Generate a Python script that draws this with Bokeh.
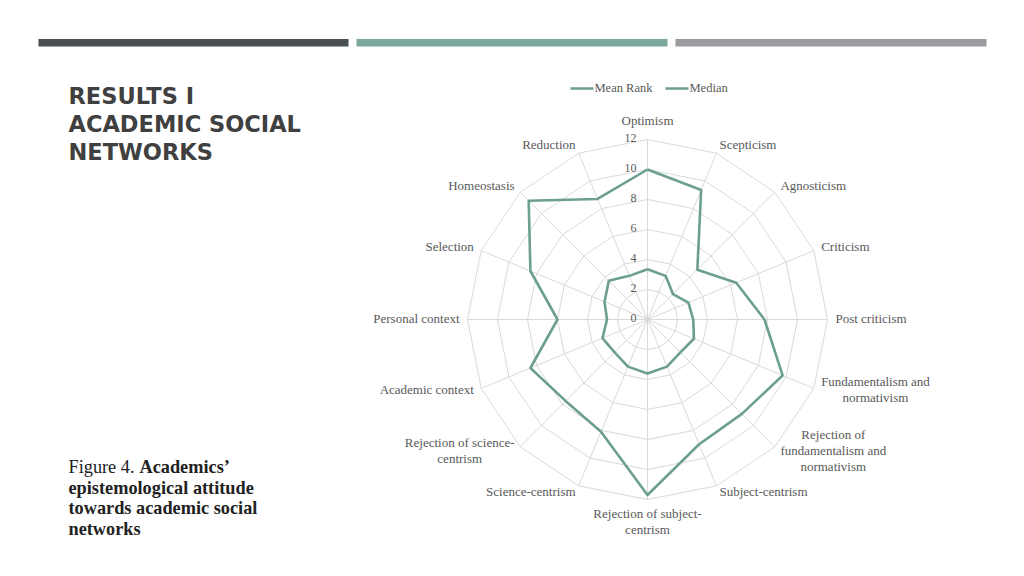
import numpy as np
from bokeh.plotting import figure
from bokeh.models import Range1d
from bokeh.core.properties import value
from bokeh.embed import file_html
from bokeh.resources import INLINE

# ---------------- data ----------------
categories = ["Optimism", "Scepticism", "Agnosticism", "Criticism", "Post criticism",
              "Fundamentalism and normativism", "Rejection of fundamentalism and normativism",
              "Subject-centrism", "Rejection of subject-centrism", "Science-centrism",
              "Rejection of science-centrism", "Academic context", "Personal context",
              "Selection", "Homeostasis", "Reduction"]
category_lines = ["Optimism", "Scepticism", "Agnosticism", "Criticism", "Post criticism",
                  "Fundamentalism and\nnormativism", "Rejection of\nfundamentalism and\nnormativism",
                  "Subject-centrism", "Rejection of subject-\ncentrism", "Science-centrism",
                  "Rejection of science-\ncentrism", "Academic context", "Personal context",
                  "Selection", "Homeostasis", "Reduction"]
series_names = ["Mean Rank", "Median"]
mean_rank = [10.0, 9.35, 4.7, 6.4, 7.8, 9.75, 8.9, 9.0, 11.7, 8.1, 7.7, 8.45, 6.0, 8.45, 11.2, 8.7]
median = [3.35, 3.15, 2.4, 2.95, 3.05, 3.35, 3.1, 3.4, 3.6, 3.4, 3.1, 3.25, 2.7, 3.1, 3.65, 3.15]
ticks = [0, 2, 4, 6, 8, 10, 12]
title_lines = ["RESULTS I", "ACADEMIC SOCIAL", "NETWORKS"]
caption_lead = "Figure 4."
caption_bold = ["Academics’", "epistemological attitude", "towards academic social", "networks"]

# ---------------- layout / style ----------------
W, H = 1008, 560
CX, CY, PXU = 647, 319, 15.0   # radar centre (screen px) and px per value unit
TEAL = "#6C9F92"
GRID = "#D9D9D9"
LABEL_C = "#595959"
SERIF = value("Liberation Serif")


def X(px):
    return (px - CX) / PXU


def Y(py):
    return (CY - py) / PXU


p = figure(width=W, height=H, x_range=Range1d(X(0), X(W)), y_range=Range1d(Y(H), Y(0)),
           output_backend="svg", toolbar_location=None, x_axis_type=None, y_axis_type=None,
           min_border=0, min_border_left=0, min_border_right=0, min_border_top=0, min_border_bottom=0)
p.grid.visible = False
p.outline_line_color = None
p.background_fill_color = "white"
p.border_fill_color = "white"

# top decorative bars
p.quad(left=[X(38), X(356), X(675)], right=[X(348), X(667), X(986)],
       top=Y(38.5), bottom=Y(46), color=["#485053", "#7DA89D", "#9B9BA0"], line_color=None)

# title
p.text(x=[X(68)] * 3, y=[Y(95), Y(123), Y(151)], text=title_lines,
       text_font=value("DejaVu Sans"), text_font_style="bold", text_font_size="22.5px",
       text_color="#404040", text_baseline="middle", text_align="left")

# caption
cap_font = "18.3px"
p.text(x=[X(68)], y=[Y(466)], text=[caption_lead], text_font=SERIF, text_font_size=cap_font,
       text_color="#222222", text_baseline="middle", text_align="left")
p.text(x=[X(139), X(68), X(68), X(68)], y=[Y(466), Y(487), Y(507.5), Y(528)], text=caption_bold,
       text_font=SERIF, text_font_style="bold", text_font_size=cap_font,
       text_color="#222222", text_baseline="middle", text_align="left")

# radar grid
n = len(categories)
ang = np.arange(n) * 2 * np.pi / n
sx, cy = np.sin(ang), np.cos(ang)
ring_xs, ring_ys = [], []
for t in ticks[1:]:
    ring_xs.append(list(np.append(t * sx, t * sx[0])))
    ring_ys.append(list(np.append(t * cy, t * cy[0])))
p.multi_line(ring_xs, ring_ys, line_color=GRID, line_width=1)
p.segment(x0=[0] * n, y0=[0] * n, x1=list(ticks[-1] * sx), y1=list(ticks[-1] * cy),
          line_color=GRID, line_width=1)

# series
for vals in [mean_rank, median]:
    v = np.array(vals)
    p.line(x=list(np.append(v * sx, v[0] * sx[0])), y=list(np.append(v * cy, v[0] * cy[0])),
           line_color=TEAL, line_width=2.6, line_join="round")

# tick labels
p.text(x=[X(636)] * len(ticks), y=ticks, text=[str(t) for t in ticks], text_font=SERIF,
       text_font_size="12px", text_color=LABEL_C, text_align="right", text_baseline="middle",
       y_offset=-1.5)

# category labels
R_LAB = 12.53
for i, lab in enumerate(category_lines):
    multi = "\n" in lab
    if i == 0:
        x, y = 0, 13.15
        anchor, align = "center", "center"
    elif i == n // 2:
        x, y = 0, -12.55
        anchor, align = "top_center", "center"
    else:
        x, y = R_LAB * sx[i], R_LAB * cy[i]
        if sx[i] > 0:
            anchor, align = "center_left", ("center" if multi else "left")
        else:
            anchor, align = "center_right", ("center" if multi else "right")
    p.text(x=[x], y=[y], text=[lab], anchor=value(anchor), text_align=align,
           text_baseline="middle", text_font=SERIF, text_font_size="13px",
           text_color=LABEL_C, text_line_height=1.07, y_offset=-1.5)

# legend
for nm, x0 in zip(series_names, [570, 665]):
    p.segment(x0=[X(x0)], y0=[Y(88)], x1=[X(x0 + 23)], y1=[Y(88)], line_color=TEAL, line_width=2.6)
    p.text(x=[X(x0 + 24)], y=[Y(88)], text=[nm], text_font=SERIF, text_font_size="12.5px",
           text_color=LABEL_C, text_align="left", text_baseline="middle", y_offset=-1)

open("out.html", "w").write(file_html(p, INLINE))
